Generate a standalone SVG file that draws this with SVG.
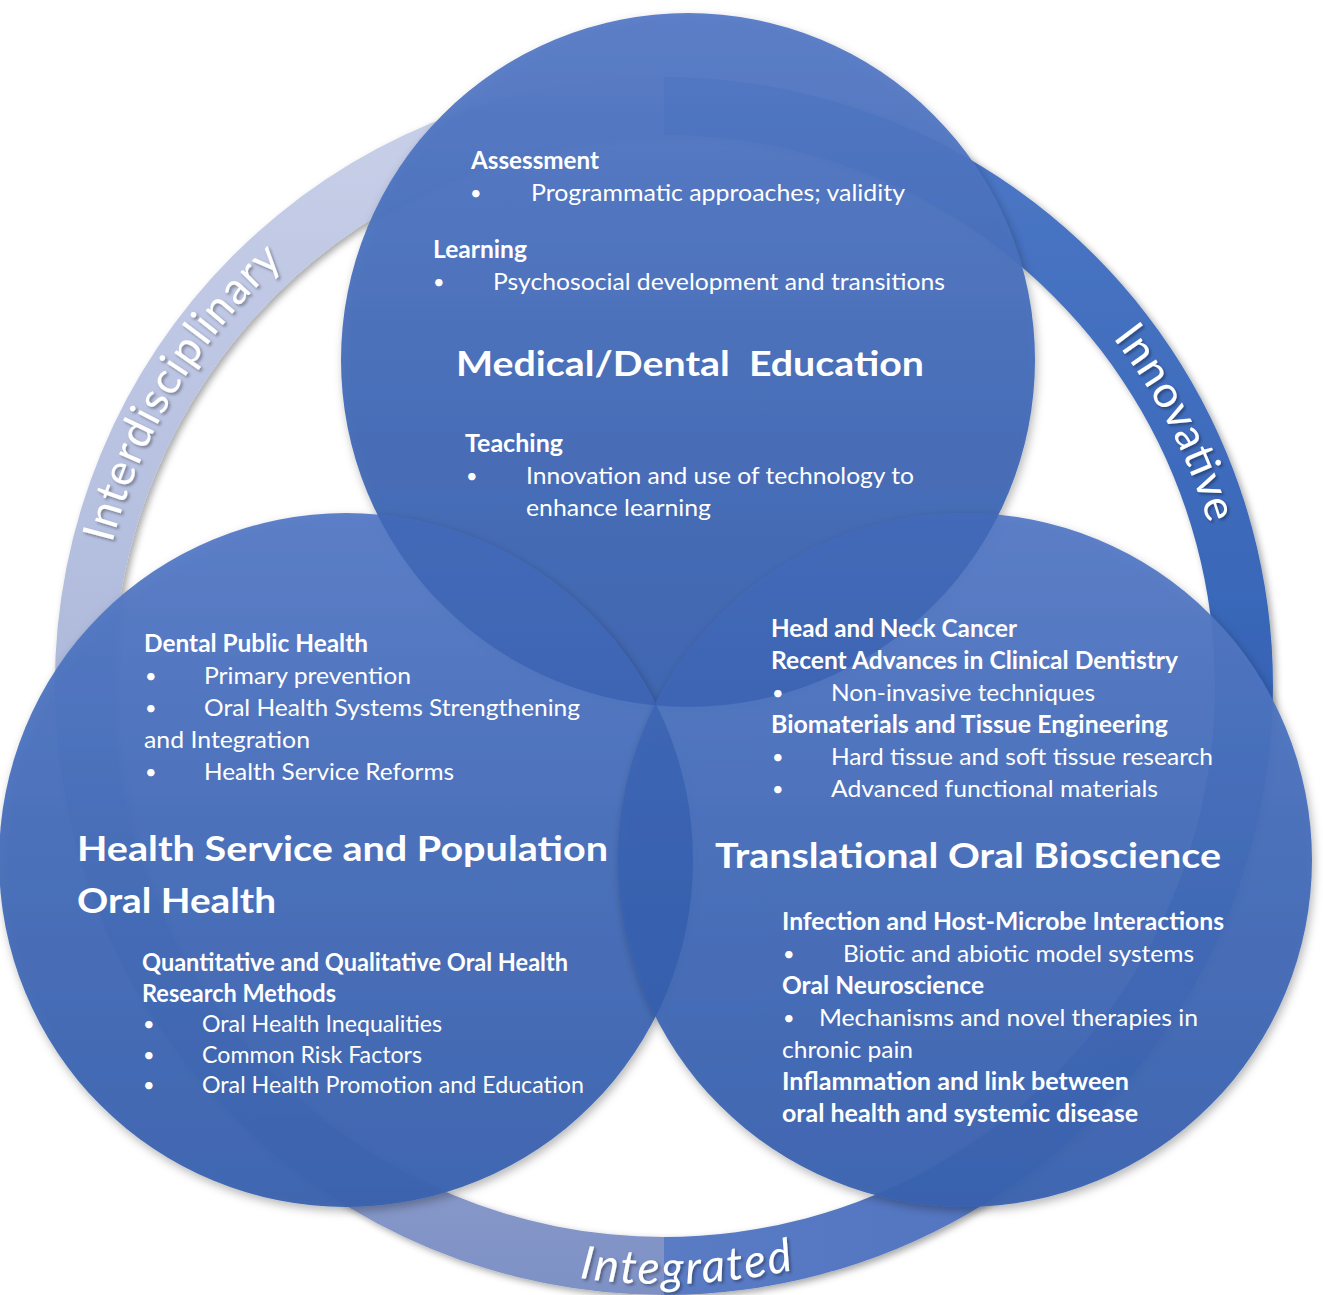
<svg xmlns="http://www.w3.org/2000/svg" width="1323" height="1295" viewBox="0 0 1323 1295">
<defs>
<style>
.t{font-family:Lato,"Liberation Sans",sans-serif;font-size:24px;fill:#ffffff}
.b{font-weight:bold}
.u{font-family:Lato,"Liberation Sans",sans-serif;font-size:20px;fill:#ffffff}
.h{font-family:Lato,"Liberation Sans",sans-serif;font-size:34px;font-weight:bold;fill:#ffffff}
.r{font-family:Lato,"Liberation Sans",sans-serif;fill:#ffffff}
.c{fill:url(#cg);fill-opacity:0.95}
.ov{fill:#2a55a8;fill-opacity:0.42}
</style>
<linearGradient id="cg" x1="0" y1="0" x2="0" y2="1">
<stop offset="0" stop-color="#567ac6"/>
<stop offset="0.5" stop-color="#446cb8"/>
<stop offset="1" stop-color="#3961ae"/>
</linearGradient>
<linearGradient id="gl" gradientUnits="userSpaceOnUse" x1="0" y1="77" x2="0" y2="1295">
<stop offset="0" stop-color="#c9d0e9"/>
<stop offset="0.45" stop-color="#b1bcdd"/>
<stop offset="1" stop-color="#7e91c5"/>
</linearGradient>
<linearGradient id="gr" gradientUnits="userSpaceOnUse" x1="0" y1="77" x2="0" y2="990">
<stop offset="0" stop-color="#4d78c7"/>
<stop offset="1" stop-color="#2b5aad"/>
</linearGradient>
<linearGradient id="gb" gradientUnits="userSpaceOnUse" x1="1190" y1="0" x2="664" y2="0">
<stop offset="0" stop-color="#4f72bf"/>
<stop offset="1" stop-color="#5a7bc4"/>
</linearGradient>
<clipPath id="clipTop"><circle cx="688" cy="360" r="347"/></clipPath>
<clipPath id="clipBL"><circle cx="346" cy="860" r="347"/></clipPath>
<filter id="sh" x="-10%" y="-10%" width="120%" height="120%">
<feDropShadow dx="3" dy="3" stdDeviation="3.5" flood-color="#000" flood-opacity="0.35"/>
</filter>
<filter id="cs" x="-10%" y="-10%" width="120%" height="120%">
<feDropShadow dx="2" dy="4" stdDeviation="5" flood-color="#000" flood-opacity="0.3"/>
</filter>
<filter id="ts" x="-10%" y="-10%" width="120%" height="120%">
<feDropShadow dx="2" dy="2" stdDeviation="1.5" flood-color="#000" flood-opacity="0.35"/>
</filter>
<path id="p1" d="M 94 686 A 570 570 0 0 1 565 124.7"/>
<path id="p2" d="M 948 194.1 A 568 568 0 0 1 1232 686"/>
<path id="p3" d="M 365 1203.9 A 598 598 0 0 0 963 1203.9"/>
</defs>

<g id="ring" filter="url(#sh)">
<path d="M 664 1295 A 609 609 0 1 1 664 77 L 664 135 A 551 551 0 1 0 664 1237 Z" fill="url(#gl)"/>
<path d="M 664 77 A 609 609 0 0 1 1191.41 990.5 L 1141.18 961.5 A 551 551 0 0 0 664 135 Z" fill="url(#gr)"/>
<path d="M 1191.41 990.5 A 609 609 0 0 1 664 1295 L 664 1237 A 551 551 0 0 0 1141.18 961.5 Z" fill="url(#gb)"/>
</g>

<g id="ring-labels" filter="url(#ts)">
<text class="r" font-size="44"><textPath href="#p1" startOffset="144" textLength="334" lengthAdjust="spacing">Interdisciplinary</textPath></text>
<text class="r" font-size="44"><textPath href="#p2" startOffset="220" textLength="210" lengthAdjust="spacing">Innovative</textPath></text>
<text class="r" font-size="46" font-style="italic"><textPath href="#p3" startOffset="228" textLength="216" lengthAdjust="spacing">Integrated</textPath></text>
</g>

<g id="medical-dental-education">
<circle class="c" cx="688" cy="360" r="347" filter="url(#cs)"/>
<text class="t b" x="471" y="169" textLength="128" lengthAdjust="spacingAndGlyphs">Assessment</text>
<text class="u" x="470" y="200">•</text>
<text class="t" x="531" y="201" textLength="374" lengthAdjust="spacingAndGlyphs">Programmatic approaches; validity</text>
<text class="t b" x="433" y="258" textLength="94" lengthAdjust="spacingAndGlyphs">Learning</text>
<text class="u" x="433" y="289">•</text>
<text class="t" x="493" y="290" textLength="452" lengthAdjust="spacingAndGlyphs">Psychosocial development and transitions</text>
<text class="h" x="456" y="376" xml:space="preserve" textLength="468" lengthAdjust="spacingAndGlyphs">Medical/Dental  Education</text>
<text class="t b" x="465" y="452" textLength="98" lengthAdjust="spacingAndGlyphs">Teaching</text>
<text class="u" x="466" y="483">•</text>
<text class="t" x="526" y="484" textLength="388" lengthAdjust="spacingAndGlyphs">Innovation and use of technology to</text>
<text class="t" x="526" y="516" textLength="185" lengthAdjust="spacingAndGlyphs">enhance learning</text>
</g>

<g id="health-service-population">
<circle class="c" cx="346" cy="860" r="347" filter="url(#cs)"/>
<circle class="ov" cx="346" cy="860" r="347" clip-path="url(#clipTop)"/>
<text class="t b" x="144" y="652" textLength="224" lengthAdjust="spacingAndGlyphs">Dental Public Health</text>
<text class="u" x="145" y="683">•</text>
<text class="t" x="204" y="684" textLength="207" lengthAdjust="spacingAndGlyphs">Primary prevention</text>
<text class="u" x="145" y="715">•</text>
<text class="t" x="204" y="716" textLength="376" lengthAdjust="spacingAndGlyphs">Oral Health Systems Strengthening</text>
<text class="t" x="144" y="748" textLength="166" lengthAdjust="spacingAndGlyphs">and Integration</text>
<text class="u" x="145" y="779">•</text>
<text class="t" x="204" y="780" textLength="250" lengthAdjust="spacingAndGlyphs">Health Service Reforms</text>
<text class="h" x="77" y="861" textLength="531" lengthAdjust="spacingAndGlyphs">Health Service and Population</text>
<text class="h" x="77" y="913" textLength="199" lengthAdjust="spacingAndGlyphs">Oral Health</text>
<text class="t b" x="142" y="971" textLength="426" lengthAdjust="spacingAndGlyphs">Quantitative and Qualitative Oral Health</text>
<text class="t b" x="142" y="1002" textLength="194" lengthAdjust="spacingAndGlyphs">Research Methods</text>
<text class="u" x="143" y="1031">•</text>
<text class="t" x="202" y="1032" textLength="240" lengthAdjust="spacingAndGlyphs">Oral Health Inequalities</text>
<text class="u" x="143" y="1062">•</text>
<text class="t" x="202" y="1063" textLength="220" lengthAdjust="spacingAndGlyphs">Common Risk Factors</text>
<text class="u" x="143" y="1092">•</text>
<text class="t" x="202" y="1093" textLength="382" lengthAdjust="spacingAndGlyphs">Oral Health Promotion and Education</text>
</g>

<g id="translational-oral-bioscience">
<circle class="c" cx="965" cy="860" r="347" filter="url(#cs)"/>
<circle class="ov" cx="965" cy="860" r="347" clip-path="url(#clipTop)"/>
<circle class="ov" cx="965" cy="860" r="347" clip-path="url(#clipBL)"/>
<text class="t b" x="771" y="637" textLength="246" lengthAdjust="spacingAndGlyphs">Head and Neck Cancer</text>
<text class="t b" x="771" y="669" textLength="407" lengthAdjust="spacingAndGlyphs">Recent Advances in Clinical Dentistry</text>
<text class="u" x="772" y="700">•</text>
<text class="t" x="831" y="701" textLength="264" lengthAdjust="spacingAndGlyphs">Non-invasive techniques</text>
<text class="t b" x="771" y="733" textLength="397" lengthAdjust="spacingAndGlyphs">Biomaterials and Tissue Engineering</text>
<text class="u" x="772" y="764">•</text>
<text class="t" x="831" y="765" textLength="382" lengthAdjust="spacingAndGlyphs">Hard tissue and soft tissue research</text>
<text class="u" x="772" y="796">•</text>
<text class="t" x="831" y="797" textLength="327" lengthAdjust="spacingAndGlyphs">Advanced functional materials</text>
<text class="h" x="715" y="868" textLength="506" lengthAdjust="spacingAndGlyphs">Translational Oral Bioscience</text>
<text class="t b" x="782" y="930" textLength="442" lengthAdjust="spacingAndGlyphs">Infection and Host-Microbe Interactions</text>
<text class="u" x="783" y="961">•</text>
<text class="t" x="843" y="962" textLength="351" lengthAdjust="spacingAndGlyphs">Biotic and abiotic model systems</text>
<text class="t b" x="782" y="994" textLength="202" lengthAdjust="spacingAndGlyphs">Oral Neuroscience</text>
<text class="u" x="783" y="1025">•</text>
<text class="t" x="819" y="1026" textLength="379" lengthAdjust="spacingAndGlyphs">Mechanisms and novel therapies in</text>
<text class="t" x="782" y="1058" textLength="131" lengthAdjust="spacingAndGlyphs">chronic pain</text>
<text class="t b" x="782" y="1090" textLength="347" lengthAdjust="spacingAndGlyphs">Inflammation and link between</text>
<text class="t b" x="782" y="1122" textLength="356" lengthAdjust="spacingAndGlyphs">oral health and systemic disease</text>
</g>
</svg>
